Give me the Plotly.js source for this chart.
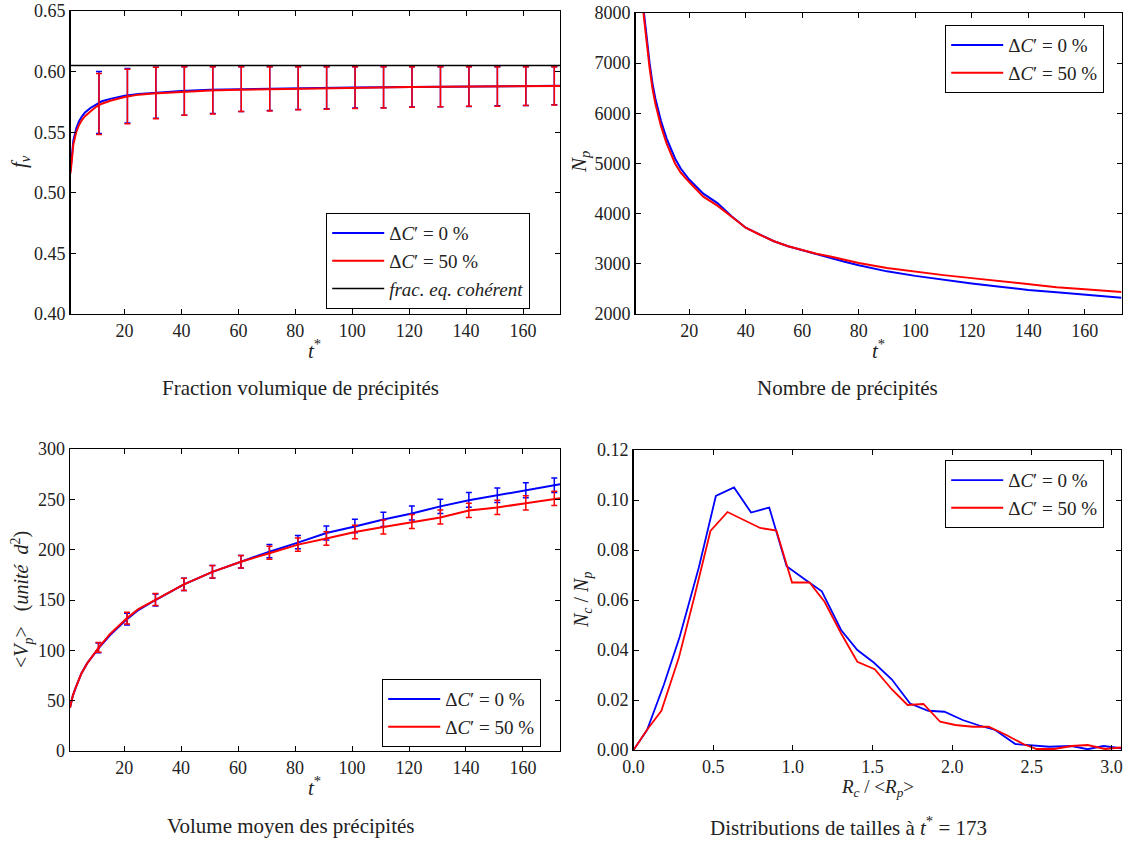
<!DOCTYPE html>
<html>
<head>
<meta charset="utf-8">
<script src="https://cdn.plot.ly/plotly-3.0.1.min.js"></script>
<style>html,body{margin:0;padding:0;background:#fff;}#chart{width:1128px;height:844px;}</style>
</head>
<body>
<div id="chart"></div>
<script>
// ---------- Panel 1 : fraction volumique ----------
var t_fv = [1,2,3,4,5,6,8,10,12,15,20,25,30,40,50,60,70,80,90,100,110,120,130,140,150,160,173];
var fv_0 = [0.518,0.543,0.553,0.559,0.563,0.566,0.570,0.573,0.5755,0.5775,0.580,0.5815,0.5825,0.584,0.585,0.5855,0.586,0.5863,0.5866,0.5869,0.5871,0.5873,0.5875,0.5877,0.5879,0.5881,0.5883];
var fv_50 = [0.516,0.540,0.550,0.556,0.560,0.563,0.567,0.571,0.5735,0.576,0.579,0.581,0.582,0.5835,0.5845,0.585,0.5855,0.586,0.5863,0.5866,0.5869,0.5872,0.5874,0.5876,0.5878,0.588,0.5882];
var fv_eq = 0.605;
var t_err = [11,21,31,41,51,61,71,81,91,101,111,121,131,141,151,161,171];
var fv_mean_0 = [0.5745,0.580,0.5825,0.584,0.585,0.5855,0.586,0.5862,0.5865,0.5868,0.587,0.5872,0.5874,0.5876,0.5878,0.588,0.5882];
var fv_hi_0 = [0.600,0.6025,0.6035,0.604,0.604,0.604,0.604,0.604,0.604,0.604,0.604,0.604,0.604,0.604,0.604,0.604,0.604];
var fv_lo_0 = [0.549,0.5575,0.5615,0.564,0.5655,0.567,0.568,0.5688,0.5693,0.570,0.5702,0.5707,0.571,0.5713,0.5718,0.572,0.5726];
var fv_mean_50 = [0.5733,0.5795,0.582,0.5835,0.5845,0.585,0.5855,0.586,0.5863,0.5866,0.5869,0.5872,0.5874,0.5876,0.5878,0.588,0.5882];
var fv_hi_50 = [0.5985,0.602,0.6035,0.604,0.604,0.604,0.604,0.604,0.604,0.604,0.604,0.604,0.604,0.604,0.604,0.604,0.604];
var fv_lo_50 = [0.548,0.557,0.561,0.564,0.565,0.567,0.5675,0.5685,0.569,0.5695,0.570,0.5705,0.571,0.5715,0.5715,0.572,0.5725];

// ---------- Panel 2 : nombre de précipités ----------
var t_np = [1,2,3,4,5,6,7,8,10,12,15,17,20,25,30,35,40,45,50,55,60,65,70,75,80,90,100,110,120,130,140,150,160,173];
var np_0 = [10500,9500,8700,8000,7450,7000,6600,6300,5850,5500,5100,4900,4680,4400,4210,3950,3720,3580,3450,3350,3270,3190,3110,3040,2970,2850,2760,2680,2610,2545,2480,2435,2390,2325];
var np_50 = [10400,9400,8600,7900,7350,6900,6500,6200,5750,5400,5000,4820,4630,4340,4160,3940,3720,3580,3450,3350,3270,3200,3145,3080,3015,2915,2840,2775,2715,2650,2585,2535,2495,2440];

// ---------- Panel 3 : volume moyen ----------
var t_vp = [1,2,3,5,7,9,11,15,21,25,31,41,51,61,71,81,91,101,111,121,131,141,151,161,173];
var vp_0 = [43,55,63,77,87,95,102,115,131,140,150,165.5,178,188,198,207,216.5,223,230,236,243,249,254,259,265];
var vp_50 = [43,55,63,77,87,95,102.5,116,132,141,150.5,165.5,178,188,196.5,205,211,217.5,222.5,227.5,232,239,242,246,251];
var vp_mean_0 = [102.5,131,150,165.5,178,188,198.5,207.5,216.5,223.5,230,236.5,243,249.5,254,259,264];
var vp_err_0 = [4.8,5.9,5.9,6.1,6.3,6.3,6.6,6.6,6.9,6.8,7.1,7.0,7.1,7.3,7.2,7.4,7.3];
var vp_mean_50 = [103,132,150.5,165.5,178,188,197,205,211,217.5,222.5,228,232.5,239,242,246.5,251];
var vp_err_50 = [4.8,5.8,5.9,6.0,6.2,6.3,6.5,6.5,6.7,6.7,6.9,6.9,6.9,7.0,7.0,7.1,7.1];

// ---------- Panel 4 : distributions de tailles ----------
var rc_0 = [0,0.085,0.19,0.29,0.41,0.517,0.631,0.738,0.852,0.961,1.07,1.182,1.303,1.405,1.508,1.622,1.736,1.85,1.952,2.066,2.17,2.27,2.397,2.51,2.61,2.75,2.85,2.95,3.06];
var nc_0 = [0,0.008,0.026,0.0453,0.073,0.1016,0.105,0.095,0.097,0.0735,0.0685,0.0635,0.048,0.040,0.035,0.0282,0.0186,0.0157,0.0153,0.012,0.0098,0.008,0.0024,0.0018,0.0013,0.0016,0.0003,0.0016,0.0007];
var rc_50 = [0,0.084,0.175,0.285,0.385,0.483,0.59,0.688,0.795,0.897,0.995,1.105,1.20,1.30,1.405,1.514,1.622,1.72,1.82,1.925,2.02,2.13,2.23,2.34,2.45,2.53,2.64,2.75,2.85,2.96,3.06];
var nc_50 = [0,0.008,0.0157,0.037,0.062,0.0876,0.0952,0.092,0.0888,0.0878,0.067,0.067,0.0592,0.047,0.0353,0.0323,0.0242,0.018,0.0184,0.0113,0.010,0.0093,0.0093,0.006,0.0023,0.0004,0.0004,0.0016,0.002,0.0004,0.001];

// ---------- Texts ----------
var name_0 = "Δ<i>C</i>′ = 0 %";
var name_50 = "Δ<i>C</i>′ = 50 %";
var name_eq = "<i>frac. eq. cohérent</i>";
var captions = ["Fraction volumique de précipités","Nombre de précipités","Volume moyen des précipités","Distributions de tailles à <i>t</i><sup>*</sup> = 173"];

var BLUE = "#0000ff", RED = "#ff0000";
var FONT = "Liberation Serif";
var W = 1128, H = 844;
function px(x){return x/W;}
function py(y){return 1-y/H;}
function diff(a,b){return a.map(function(v,i){return v-b[i];});}

var traces = [];
// Panel 1
traces.push({x:t_fv,y:fv_0,mode:"lines",line:{color:BLUE,width:2},name:name_0,xaxis:"x",yaxis:"y",legend:"legend"});
traces.push({x:t_err,y:fv_mean_0,mode:"markers",marker:{size:1,opacity:0,color:BLUE},showlegend:false,xaxis:"x",yaxis:"y",
  error_y:{type:"data",symmetric:false,array:diff(fv_hi_0,fv_mean_0),arrayminus:diff(fv_mean_0,fv_lo_0),color:BLUE,thickness:1.5,width:3}});
traces.push({x:t_fv,y:fv_50,mode:"lines",line:{color:RED,width:2},name:name_50,xaxis:"x",yaxis:"y",legend:"legend"});
traces.push({x:t_err,y:fv_mean_50,mode:"markers",marker:{size:1,opacity:0,color:RED},showlegend:false,xaxis:"x",yaxis:"y",
  error_y:{type:"data",symmetric:false,array:diff(fv_hi_50,fv_mean_50),arrayminus:diff(fv_mean_50,fv_lo_50),color:RED,thickness:1.5,width:3}});
traces.push({x:[1,173],y:[fv_eq,fv_eq],mode:"lines",line:{color:"#000",width:1.5},name:name_eq,xaxis:"x",yaxis:"y",legend:"legend"});
// Panel 2
traces.push({x:t_np,y:np_0,mode:"lines",line:{color:BLUE,width:2},name:name_0,xaxis:"x2",yaxis:"y2",legend:"legend2"});
traces.push({x:t_np,y:np_50,mode:"lines",line:{color:RED,width:2},name:name_50,xaxis:"x2",yaxis:"y2",legend:"legend2"});
// Panel 3
traces.push({x:t_vp,y:vp_0,mode:"lines",line:{color:BLUE,width:2},name:name_0,xaxis:"x3",yaxis:"y3",legend:"legend3"});
traces.push({x:t_err,y:vp_mean_0,mode:"markers",marker:{size:1,opacity:0,color:BLUE},showlegend:false,xaxis:"x3",yaxis:"y3",
  error_y:{type:"data",array:vp_err_0,color:BLUE,thickness:1.5,width:3}});
traces.push({x:t_vp,y:vp_50,mode:"lines",line:{color:RED,width:2},name:name_50,xaxis:"x3",yaxis:"y3",legend:"legend3"});
traces.push({x:t_err,y:vp_mean_50,mode:"markers",marker:{size:1,opacity:0,color:RED},showlegend:false,xaxis:"x3",yaxis:"y3",
  error_y:{type:"data",array:vp_err_50,color:RED,thickness:1.5,width:3}});
// Panel 4
traces.push({x:rc_0,y:nc_0,mode:"lines",line:{color:BLUE,width:1.8},name:name_0,xaxis:"x4",yaxis:"y4",legend:"legend4"});
traces.push({x:rc_50,y:nc_50,mode:"lines",line:{color:RED,width:1.8},name:name_50,xaxis:"x4",yaxis:"y4",legend:"legend4"});

function ax(extra){
  var a = {showline:true,linecolor:"#000",linewidth:1.3,mirror:"ticks",ticks:"inside",ticklen:5,tickwidth:1,tickcolor:"#000",
    showgrid:false,zeroline:false,tickfont:{family:FONT,size:18,color:"#222"},fixedrange:true,automargin:false};
  for (var k in extra) a[k]=extra[k];
  return a;
}
var legBase = {bgcolor:"rgba(255,255,255,1)",bordercolor:"#000",borderwidth:1.2,font:{family:FONT,size:19,color:"#222"},
  xanchor:"left",yanchor:"top",xref:"paper",yref:"paper",tracegroupgap:0,itemwidth:52};
function leg(x,y){var l={};for(var k in legBase)l[k]=legBase[k];l.x=x;l.y=y;return l;}

function ann(text,x,y,size,angle){
  return {text:text,x:px(x),y:py(y),xref:"paper",yref:"paper",showarrow:false,xanchor:"center",yanchor:"middle",
    textangle:angle||0,font:{family:FONT,size:size,color:"#222"}};
}

var layout = {
  width:W,height:H,margin:{l:0,r:0,t:0,b:0},paper_bgcolor:"#fff",plot_bgcolor:"#fff",showlegend:true,
  font:{family:FONT},
  xaxis: ax({domain:[px(70.5),px(560)],range:[1,173],tickvals:[20,40,60,80,100,120,140,160],anchor:"y"}),
  yaxis: ax({domain:[py(314),py(11)],range:[0.40,0.65],dtick:0.05,tickformat:".2f",anchor:"x"}),
  xaxis2: ax({domain:[px(635.5),px(1121.5)],range:[1,173],tickvals:[20,40,60,80,100,120,140,160],anchor:"y2"}),
  yaxis2: ax({domain:[py(314),py(13)],range:[2000,8000],dtick:1000,tickformat:"d",anchor:"x2"}),
  xaxis3: ax({domain:[px(70),px(560)],range:[1,173],tickvals:[20,40,60,80,100,120,140,160],anchor:"y3"}),
  yaxis3: ax({domain:[py(751),py(449)],range:[0,300],dtick:50,anchor:"x3"}),
  xaxis4: ax({domain:[px(633.5),px(1121)],range:[0,3.06],dtick:0.5,tickformat:".1f",anchor:"y4"}),
  yaxis4: ax({domain:[py(750),py(450)],range:[0,0.12],dtick:0.02,tickformat:".2f",anchor:"x4"}),
  legend: leg(px(326),py(213)),
  legend2: leg(px(945),py(25)),
  legend3: leg(px(382),py(679)),
  legend4: leg(px(945),py(460)),
  annotations:[
    ann("<i>t</i><sup>*</sup>",315,349,21),
    ann("<i>t</i><sup>*</sup>",878,349,21),
    ann("<i>t</i><sup>*</sup>",315,786,21),
    ann("<i>R<sub>c</sub></i> / &lt;<i>R<sub>p</sub></i>&gt;",877,788,19),
    ann("<i>f<sub>v</sub></i>",20,162,21,-90),
    ann("<i>N<sub>p</sub></i>",580,162,21,-90),
    ann("&lt;<i>V<sub>p</sub></i>&gt;   (<i>unité  d</i><sup>2</sup>)",22,600,20,-90),
    ann("<i>N<sub>c</sub></i> / <i>N<sub>p</sub></i>",582,600,20,-90),
    ann(captions[0],300,388,21),
    ann(captions[1],847,388,21),
    ann(captions[2],290,826,21),
    ann(captions[3],848,826,21)
  ]
};
Plotly.newPlot("chart",traces,layout,{displayModeBar:false,staticPlot:true});
</script>
</body>
</html>
